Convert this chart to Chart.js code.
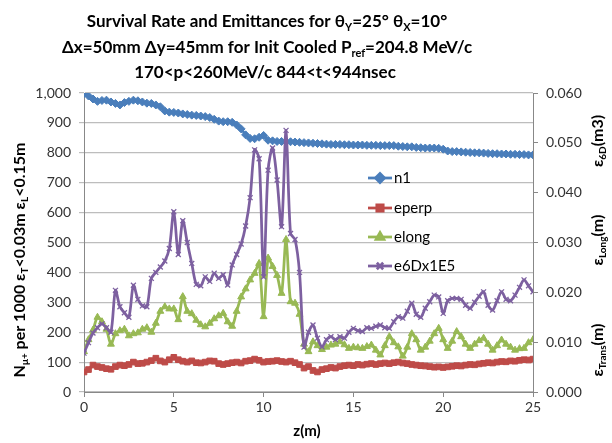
<!DOCTYPE html>
<html>
<head>
<meta charset="utf-8">
<script src="https://cdn.jsdelivr.net/npm/chart.js@4"></script>
<style>
  html, body { margin: 0; padding: 0; background: #fff; }
  #wrap { width: 612px; height: 443px; }
</style>
</head>
<body>
<div id="wrap"><canvas id="chart" width="612" height="443"></canvas></div>
<script>
// z grid, one sample every 0.25 m from 0 to 25
const zStep = 0.25
const n1 = [998, 990, 980, 972, 975, 976, 970, 965, 960, 968, 972, 976, 974, 970, 966, 965, 960, 954, 940, 936,
  935, 933, 930, 928, 926, 925, 923, 921, 918, 912, 906, 904, 904, 902, 893, 880, 860, 848, 847, 852,
  858, 842, 840, 838, 838, 837, 837, 836, 835, 834, 833, 832, 831, 830, 829, 828, 828, 828, 827, 827,
  826, 826, 826, 825, 825, 825, 824, 824, 824, 824, 822, 821, 820, 820, 818, 817, 816, 816, 816, 815,
  812, 806, 804, 804, 803, 802, 801, 800, 800, 799, 798, 797, 797, 796, 796, 795, 795, 794, 794, 793, 793]
const eperp = [67, 75, 90, 85, 82, 78, 76, 85, 90, 88, 92, 100, 95, 96, 100, 105, 113, 104, 100, 108,
  116, 108, 103, 100, 104, 98, 97, 100, 104, 103, 95, 92, 95, 98, 100, 97, 103, 105, 110, 106,
  100, 102, 103, 105, 102, 100, 103, 98, 92, 80, 85, 72, 67, 75, 78, 82, 80, 85, 88, 90,
  88, 92, 90, 93, 95, 92, 95, 97, 95, 98, 100, 97, 95, 92, 90, 88, 87, 85, 83, 84,
  82, 84, 86, 88, 87, 90, 92, 91, 94, 96, 98, 97, 100, 102, 101, 104, 103, 106, 108, 107, 110]
const elong = [135, 175, 207, 250, 235, 210, 160, 195, 205, 210, 188, 195, 198, 210, 215, 200, 230, 270, 285, 278,
  278, 242, 319, 270, 262, 240, 225, 218, 230, 245, 255, 263, 235, 220, 270, 318, 345, 375, 397, 430,
  252, 448, 420, 390, 330, 510, 302, 297, 260, 160, 135, 168, 155, 142, 150, 157, 160, 168, 158, 146,
  150, 148, 146, 152, 157, 140, 124, 155, 185, 165, 151, 120, 150, 195, 175, 140, 150, 170, 195, 213,
  175, 146, 170, 202, 185, 160, 146, 160, 172, 180, 160, 140, 155, 174, 160, 150, 140, 145, 146, 165, 175]
const e6D = [130, 165, 197, 215, 228, 215, 200, 340, 285, 265, 250, 357, 310, 288, 285, 380, 400, 418, 438, 480,
  603, 460, 573, 500, 430, 360, 355, 385, 370, 397, 380, 392, 358, 425, 460, 495, 555, 650, 810, 780,
  385, 742, 816, 709, 553, 875, 530, 510, 400, 150, 200, 224, 180, 151, 175, 185, 175, 185, 180, 200,
  213, 205, 202, 215, 213, 220, 224, 215, 213, 235, 252, 247, 270, 297, 260, 250, 280, 302, 324, 318,
  263, 305, 313, 313, 310, 290, 280, 300, 320, 335, 290, 274, 305, 335, 310, 305, 324, 350, 375, 355, 335]
const xTicks = [0, 5, 10, 15, 20, 25]

const seriesNames = ['n1', 'eperp', 'elong', 'e6Dx1E5']
const seriesColors = ['#4A7EBB', '#BE4B48', '#98B954', '#7D60A0']
const seriesMarkers = ['rectRot', 'rect', 'triangle', 'crossRot']
const seriesValues = [n1, eperp, elong, e6D]

function pts(values) {
  return values.map((v, i) => ({ x: i * zStep, y: v }))
}

const FONT = 'Lato, "Open Sans", sans-serif'

// draws text made of [string, isSub] parts, centred on (x, y)
function drawRich(ctx, parts, x, y, size, bold, rot) {
  const main = (bold ? 'bold ' : '') + size + 'px ' + FONT
  const sub = (bold ? 'bold ' : '') + Math.round(size * 0.62) + 'px ' + FONT
  let total = 0
  parts.forEach(p => {
    ctx.font = p[1] ? sub : main
    total += ctx.measureText(p[0]).width
  })
  ctx.save()
  ctx.translate(x, y)
  if (rot) ctx.rotate(-Math.PI / 2)
  ctx.textBaseline = 'middle'
  ctx.textAlign = 'left'
  ctx.fillStyle = '#000'
  let cx = -total / 2
  parts.forEach(p => {
    ctx.font = p[1] ? sub : main
    ctx.fillText(p[0], cx, p[1] ? size * 0.32 : 0)
    cx += ctx.measureText(p[0]).width
  })
  ctx.restore()
}

const textPlugin = {
  id: 'texts',
  afterDraw(chart) {
    const ctx = chart.ctx
    drawRich(ctx, [['Survival Rate and Emittances for θ', 0], ['Y', 1], ['=25° θ', 0], ['X', 1], ['=10°', 0]], 267, 22, 17, true)
    drawRich(ctx, [['Δx=50mm Δy=45mm for Init Cooled P', 0], ['ref', 1], ['=204.8 MeV/c', 0]], 267, 48, 17, true)
    drawRich(ctx, [['170<p<260MeV/c 844<t<944nsec', 0]], 265, 73, 17, true)
    drawRich(ctx, [['N', 0], ['μ+', 1], [' per 1000 ε', 0], ['T', 1], ['<0.03m ε', 0], ['L', 1], ['<0.15m', 0]], 20, 260, 16, true, true)
    drawRich(ctx, [['ε', 0], ['6D', 1], ['(m3)', 0]], 598, 141, 16, true, true)
    drawRich(ctx, [['ε', 0], ['Long', 1], ['(m)', 0]], 598, 240, 16, true, true)
    drawRich(ctx, [['ε', 0], ['Trans', 1], ['(m)', 0]], 598, 350, 16, true, true)
    drawRich(ctx, [['z(m)', 0]], 307, 431, 15, true)

    // legend inside the plot
    const rows = [178, 208, 237, 266]
    seriesNames.forEach((name, i) => {
      const y = rows[i]
      ctx.save()
      ctx.strokeStyle = seriesColors[i]
      ctx.lineWidth = 2.75
      ctx.beginPath()
      ctx.moveTo(368, y)
      ctx.lineTo(392, y)
      ctx.stroke()
      Chart.helpers.drawPoint(ctx, {
        pointStyle: seriesMarkers[i], radius: 4.5, rotation: 0,
        borderWidth: i === 3 ? 1.5 : 1
      }, 380, y)
      ctx.fillStyle = seriesColors[i]
      ctx.fill()
      ctx.font = '15px ' + FONT
      ctx.fillStyle = '#000'
      ctx.textBaseline = 'middle'
      ctx.fillText(name, 394, y)
      ctx.restore()
    })
  }
}

new Chart(document.getElementById('chart'), {
  type: 'line',
  data: {
    datasets: seriesValues.map((vals, i) => ({
      label: seriesNames[i],
      data: pts(vals),
      borderColor: seriesColors[i],
      backgroundColor: seriesColors[i],
      borderWidth: 2.75,
      pointStyle: seriesMarkers[i],
      pointRadius: i === 3 ? 3.5 : 4,
      pointBorderWidth: i === 3 ? 1.3 : 1,
      tension: 0.3,
      order: 3 - i
    }))
  },
  options: {
    responsive: false,
    animation: false,
    layout: { padding: { left: 0, right: 0, top: 93, bottom: 0 } },
    plugins: { legend: { display: false }, tooltip: { enabled: false }, title: { display: false } },
    scales: {
      x: {
        type: 'linear', min: 0, max: 25,
        afterBuildTicks: s => { s.ticks = xTicks.map(v => ({ value: v })) },
        grid: { display: true, drawOnChartArea: false, drawTicks: true, tickLength: 5, color: '#888' },
        border: { color: '#888' },
        ticks: { color: '#333', font: { family: FONT, size: 14 }, padding: 2, maxRotation: 0 },
        afterFit: s => { s.height = 51 }
      },
      y: {
        position: 'left', min: 0, max: 1000,
        ticks: { stepSize: 100, color: '#333', font: { family: FONT, size: 14 }, padding: 8,
          callback: v => v.toLocaleString('en-US') },
        grid: { color: '#bdbdbd', lineWidth: 1.2, tickLength: 5 },
        border: { color: '#888' },
        afterFit: s => { s.width = 84 }
      },
      y2: {
        position: 'right', min: 0, max: 0.06,
        ticks: { stepSize: 0.01, color: '#333', font: { family: FONT, size: 14 }, padding: 8,
          callback: v => v.toFixed(3) },
        grid: { drawOnChartArea: false, tickLength: 5, color: '#888' },
        border: { color: '#888' },
        afterFit: s => { s.width = 79 }
      }
    }
  },
  plugins: [textPlugin]
})
</script>
</body>
</html>
